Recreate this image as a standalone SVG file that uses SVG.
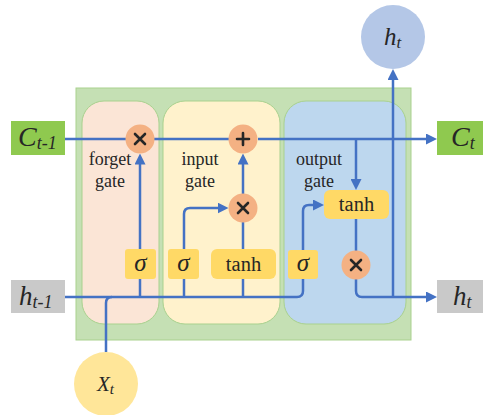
<svg xmlns="http://www.w3.org/2000/svg" width="483" height="415" viewBox="0 0 483 415">
<style>
.ln{fill:none;stroke:#4472c4;stroke-width:2.5}
.ar{marker-end:url(#ah)}
.op{fill:#f4b183}
.gt{fill:#ffd966}
.tx{font-family:"Liberation Serif","Times New Roman",serif;fill:#262626}
.lb{font-size:18px;text-anchor:middle}
.it{font-style:italic}
.sym{stroke:#262626;stroke-width:2.6;stroke-linecap:round;fill:none}
</style>
<defs>
<marker id="ah" markerUnits="userSpaceOnUse" markerWidth="11" markerHeight="11" viewBox="0 0 11 11" refX="1" refY="5.5" orient="auto">
<path d="M0,0 L11,5.5 L0,11 z" fill="#4472c4"/>
</marker>
</defs>
<g id="cell">
<rect x="76" y="88" width="335" height="252" fill="#c5e0b4" stroke="#a9d18e" stroke-width="1"/>
</g>
<g id="forget-panel">
<rect x="82" y="101" width="77" height="223" rx="22" fill="#fbe5d6" stroke="#a9d18e" stroke-width="1"/>
<text class="tx lb" x="110" y="165">forget</text>
<text class="tx lb" x="110" y="187">gate</text>
</g>
<g id="input-panel">
<rect x="163" y="101" width="117" height="223" rx="22" fill="#fff2cc" stroke="#a9d18e" stroke-width="1"/>
<text class="tx lb" x="200" y="165">input</text>
<text class="tx lb" x="200" y="187">gate</text>
</g>
<g id="output-panel">
<rect x="284" y="101" width="122" height="223" rx="22" fill="#bdd7ee" stroke="#a9d18e" stroke-width="1"/>
<text class="tx lb" x="319" y="165">output</text>
<text class="tx lb" x="319" y="187">gate</text>
</g>
<g id="connectors">
<path class="ln" d="M65,139 H230"/>
<path class="ln ar" d="M258,139 H427"/>
<path class="ln ar" d="M356,139 V180"/>
<path class="ln ar" d="M140,249 V163.5"/>
<path class="ln" d="M65,297 H297 Q303,297 303,291 V279"/>
<path class="ln" d="M140,279 V297"/>
<path class="ln" d="M184,279 V297"/>
<path class="ln" d="M243,279 V297"/>
<path class="ln" d="M106,352 V303 Q106,297 112,297"/>
<path class="ln ar" d="M184,249 V214 Q184,208 190,208 H218.5"/>
<path class="ln" d="M243,249 V222"/>
<path class="ln ar" d="M243,194 V163.5"/>
<path class="ln ar" d="M303,250 V211 Q303,205 309,205 H314"/>
<path class="ln" d="M356,219 V251"/>
<path class="ln ar" d="M356,279 V291 Q356,297 362,297 H427"/>
<path class="ln ar" d="M393,297 V79"/>
</g>
<g id="c-prev">
<rect x="11" y="121" width="54" height="34" fill="#8fc94f"/>
<text class="tx it" x="18" y="146" font-size="28">C<tspan font-size="18" dy="3">t-1</tspan></text>
</g>
<g id="c-next">
<rect x="437" y="121" width="46" height="34" fill="#8fc94f"/>
<text class="tx it" x="451" y="146" font-size="28">C<tspan font-size="18" dy="3">t</tspan></text>
</g>
<g id="h-prev">
<rect x="11" y="280" width="54" height="33" fill="#c9c9c9"/>
<text class="tx it" x="19" y="305" font-size="27">h<tspan font-size="18" dy="3">t-1</tspan></text>
</g>
<g id="h-next">
<rect x="437" y="280" width="46" height="33" fill="#c9c9c9"/>
<text class="tx it" x="453" y="305" font-size="27">h<tspan font-size="18" dy="3">t</tspan></text>
</g>
<g id="h-out">
<circle cx="393" cy="37" r="32" fill="#b4c7e7"/>
<text class="tx it" x="384" y="45" font-size="25">h<tspan font-size="17" dy="3">t</tspan></text>
</g>
<g id="x-in">
<circle cx="106" cy="384" r="32" fill="#ffe699"/>
<text class="tx it" x="97" y="391" font-size="21">X<tspan font-size="15" dy="3">t</tspan></text>
</g>
<g id="forget-mul">
<circle class="op" cx="140" cy="139" r="14.5"/>
<path class="sym" d="M135,134 L145,144 M145,134 L135,144"/>
</g>
<g id="add">
<circle class="op" cx="243" cy="139" r="14.5"/>
<path class="sym" d="M243,133 V145 M237,139 H249"/>
</g>
<g id="input-mul">
<circle class="op" cx="243" cy="208" r="14.5"/>
<path class="sym" d="M238,203 L248,213 M248,203 L238,213"/>
</g>
<g id="output-mul">
<circle class="op" cx="356" cy="265" r="14.5"/>
<path class="sym" d="M351,260 L361,270 M361,260 L351,270"/>
</g>
<g id="forget-sigma">
<rect class="gt" x="125" y="249" width="31" height="30" rx="3"/>
<text class="tx it" x="140.5" y="271" font-size="25" text-anchor="middle">σ</text>
</g>
<g id="input-sigma">
<rect class="gt" x="168" y="249" width="31" height="30" rx="3"/>
<text class="tx it" x="183.5" y="271" font-size="25" text-anchor="middle">σ</text>
</g>
<g id="input-tanh">
<rect class="gt" x="211" y="249" width="65" height="30" rx="6"/>
<text class="tx" x="243.5" y="271" font-size="20.5" text-anchor="middle">tanh</text>
</g>
<g id="output-sigma">
<rect class="gt" x="288" y="250" width="30" height="29" rx="3"/>
<text class="tx it" x="303" y="271" font-size="25" text-anchor="middle">σ</text>
</g>
<g id="output-tanh">
<rect class="gt" x="324" y="190" width="65" height="29" rx="6"/>
<text class="tx" x="356.5" y="211" font-size="20.5" text-anchor="middle">tanh</text>
</g>
</svg>
